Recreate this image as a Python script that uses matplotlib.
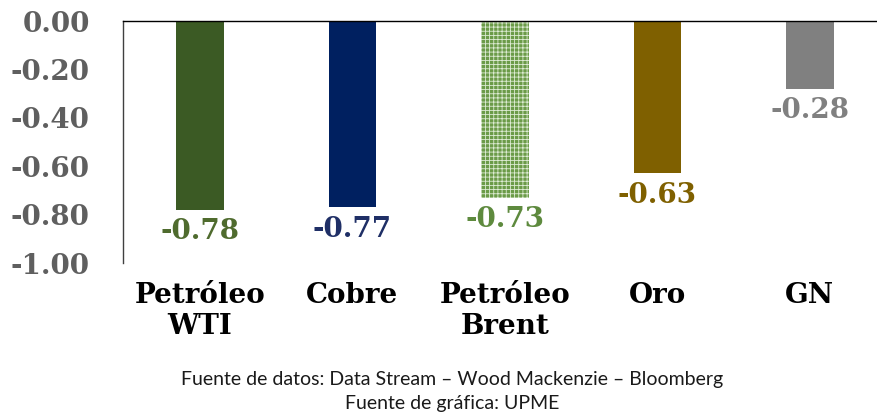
import matplotlib
matplotlib.use("Agg")
import matplotlib.pyplot as plt
import numpy as np

categories = ["Petróleo\nWTI", "Cobre", "Petróleo\nBrent", "Oro", "GN"]
values = [-0.78, -0.77, -0.73, -0.63, -0.28]
bar_colors = ["#3B5A24", "#002060", "#6B9B48", "#7F6000", "#808080"]
label_colors = ["#4F6B2E", "#1F2F66", "#5E8A3E", "#7F6000", "#808080"]
yticks = [0.0, -0.2, -0.4, -0.6, -0.8, -1.0]
ytick_labels = ["0.00", "-0.20", "-0.40", "-0.60", "-0.80", "-1.00"]

plt.rcParams["hatch.linewidth"] = 0.6

fig = plt.figure(figsize=(8.77, 4.16), dpi=100)
ax = fig.add_axes([123/877, 153/416, (877-123)/877, 242/416])

x = np.arange(len(categories))
bars = ax.bar(x, values, width=0.31, color=bar_colors, linewidth=0)
bars[2].set_hatch("++++")
bars[2].set_edgecolor("#DDEBD3")
bars[2].set_linewidth(0)

for xi, v, c in zip(x, values, label_colors):
    ax.annotate(f"{v:.2f}", (xi, v), xytext=(0, -16), textcoords="offset points",
                ha="center", va="center", color=c, fontsize=20,
                fontweight="bold", family="DejaVu Serif")

ax.set_xlim(-0.505, 4.44)
ax.set_ylim(-1.0, 0.0)
ax.set_yticks(yticks)
ax.set_yticklabels(ytick_labels, fontsize=20, fontweight="bold",
                   family="DejaVu Serif", color="#5F5F5F")
ax.tick_params(axis="y", length=0, pad=24)
ax.set_xticks(x)
ax.set_xticklabels(categories, fontsize=20, fontweight="bold",
                   family="DejaVu Serif", color="black", linespacing=1.15)
ax.tick_params(axis="x", length=0, pad=14)

for s in ["right", "bottom"]:
    ax.spines[s].set_visible(False)
ax.spines["top"].set_color("black")
ax.spines["top"].set_linewidth(1.0)
ax.spines["left"].set_color("#404040")
ax.spines["left"].set_linewidth(1.0)

fig.text(452/877, 1 - 380/416, "Fuente de datos: Data Stream – Wood Mackenzie – Bloomberg",
         ha="center", va="center", fontsize=14, family="Lato", color="#1a1a1a")
fig.text(452/877, 1 - 404/416, "Fuente de gráfica: UPME",
         ha="center", va="center", fontsize=14, family="Lato", color="#1a1a1a")

fig.savefig("out.png", dpi=100)
